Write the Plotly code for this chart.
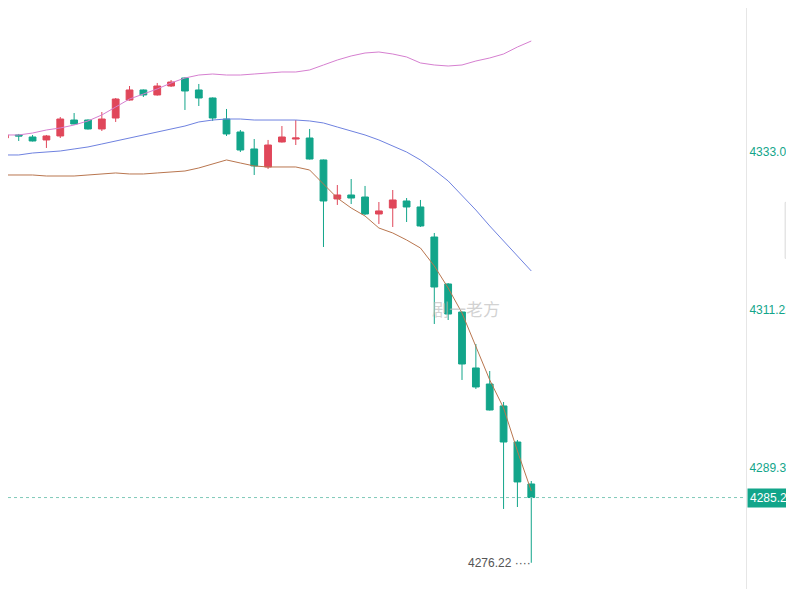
import plotly.graph_objects as go

idx = list(range(-1, 38))
opens = [4335.03,4335.45,4335.17,4334.76,4335.31,4337.52,4337.52,4336.28,4337.80,4340.29,4341.68,4340.99,4342.23,4343.34,4341.68,4340.57,4337.66,4335.86,4333.51,4331.02,4334.48,4334.89,4335.03,4331.99,4326.59,4327.14,4326.86,4324.51,4325.34,4326.31,4325.48,4321.32,4314.82,4310.94,4303.19,4300.97,4297.93,4292.94,4287.13]
closes = [4335.45,4335.31,4334.62,4335.31,4337.66,4336.97,4336.28,4337.66,4340.43,4341.68,4340.99,4342.23,4342.78,4341.54,4340.57,4337.80,4335.59,4333.37,4331.16,4334.06,4335.17,4335.03,4332.12,4326.31,4327.14,4326.72,4324.51,4324.93,4326.45,4325.48,4322.85,4314.40,4310.66,4303.74,4300.56,4297.37,4292.94,4287.41,4285.25]
highs = [4335.59,4335.59,4335.45,4335.45,4337.94,4338.49,4337.60,4338.63,4340.57,4342.23,4341.75,4342.65,4343.06,4343.40,4342.51,4340.65,4339.05,4336.14,4334.89,4334.76,4336.69,4337.52,4336.28,4332.05,4328.52,4329.35,4328.39,4326.17,4327.83,4326.72,4326.45,4321.88,4314.95,4311.00,4306.51,4302.77,4298.48,4293.22,4287.54]
lows = [4334.89,4334.62,4334.55,4333.65,4335.03,4336.90,4336.20,4336.00,4337.25,4340.20,4340.71,4340.90,4342.09,4338.91,4339.46,4337.39,4335.31,4333.09,4329.91,4330.74,4334.40,4334.06,4332.05,4319.94,4325.76,4325.89,4324.37,4323.12,4322.71,4323.40,4322.71,4309.28,4309.83,4301.53,4300.28,4297.30,4283.67,4283.94,4276.22]
upper = [4335.45,4335.45,4335.72,4336.14,4336.42,4336.83,4337.39,4338.22,4339.32,4340.43,4341.12,4341.82,4342.65,4343.34,4343.75,4343.89,4343.75,4343.75,4343.89,4344.03,4344.17,4344.17,4344.45,4345.14,4345.83,4346.39,4346.80,4346.94,4346.66,4346.25,4345.42,4345.14,4345.00,4345.14,4345.69,4346.11,4346.66,4347.63,4348.46]
middle = [4332.68,4332.68,4332.95,4333.09,4333.23,4333.51,4333.79,4334.20,4334.62,4335.03,4335.45,4335.86,4336.28,4336.69,4337.25,4337.52,4337.66,4337.66,4337.52,4337.52,4337.52,4337.52,4337.39,4337.11,4336.55,4336.00,4335.45,4334.76,4333.92,4333.09,4331.99,4330.60,4329.08,4327.14,4325.06,4322.85,4320.77,4318.69,4316.62]
lower = [4329.91,4329.91,4329.91,4329.77,4329.77,4329.77,4329.91,4330.05,4330.19,4330.05,4330.05,4330.19,4330.32,4330.46,4330.88,4331.43,4331.99,4331.57,4331.16,4331.02,4331.02,4331.02,4330.60,4328.66,4326.72,4325.34,4324.23,4322.57,4321.88,4320.91,4319.80,4317.31,4314.26,4310.80,4306.23,4301.53,4297.65,4291.70,4286.16]
tick_vals = [4289.34, 4311.22, 4333.09]
last_price = 4285.25
low_price = 4276.22

RED = "#e0475a"
GREEN = "#12a58a"

fig = go.Figure()
fig.add_trace(go.Scatter(x=idx, y=upper, mode="lines", line=dict(color="#d67fd0", width=1), hoverinfo="skip"))
fig.add_trace(go.Scatter(x=idx, y=middle, mode="lines", line=dict(color="#6f82e0", width=1), hoverinfo="skip"))
fig.add_trace(go.Candlestick(x=idx, open=opens, high=highs, low=lows, close=closes,
    increasing=dict(line=dict(color=RED, width=1), fillcolor=RED),
    decreasing=dict(line=dict(color=GREEN, width=1), fillcolor=GREEN),
    whiskerwidth=0))
fig.add_trace(go.Scatter(x=idx, y=lower, mode="lines", line=dict(color="#b9764f", width=1), hoverinfo="skip"))

fig.add_hline(y=last_price, line=dict(color="#7fc9b8", width=1, dash="dot"))

fig.add_annotation(x=1, xref="paper", y=last_price, yref="y", text="4285.25", showarrow=False,
    xanchor="left", xshift=1, bgcolor=GREEN, font=dict(color="white", size=12, family="Arial"), borderpad=2)
fig.add_annotation(x=idx[-1], y=low_price, text="4276.22 ····", showarrow=False, xanchor="right", yanchor="middle",
    xshift=2, font=dict(color="#555", size=12, family="Arial"))
fig.add_annotation(x=0.62, xref="paper", y=0.49, yref="paper", text="剧一老方", showarrow=False,
    font=dict(color="rgba(190,190,190,0.7)", size=17, family="Noto Sans CJK SC"))
fig.add_shape(type="rect", xref="paper", yref="paper", x0=1.053, x1=1.09, y0=0.575, y1=0.67,
    line=dict(color="#dddddd", width=1), fillcolor="#f2f2f2")
fig.add_annotation(x=1.068, xref="paper", y=0.622, yref="paper", text="›", showarrow=False,
    font=dict(color="#444", size=22))

fig.update_layout(width=794, height=589, margin=dict(l=0, r=56, t=0, b=0),
    plot_bgcolor="white", paper_bgcolor="white", showlegend=False, hovermode=False,
    xaxis=dict(range=[-0.773, 52.5], showgrid=False, zeroline=False, showticklabels=False,
               rangeslider=dict(visible=False)),
    yaxis=dict(range=[4271.48, 4353.03], side="right", tickvals=tick_vals,
               ticktext=[f"{v:.2f}" for v in tick_vals], showgrid=False, zeroline=False,
               tickfont=dict(color=GREEN, size=12, family="Arial"), ticks="",
               showline=True, linecolor="#e6e6e6", mirror=False))
fig.write_html("out.html")
